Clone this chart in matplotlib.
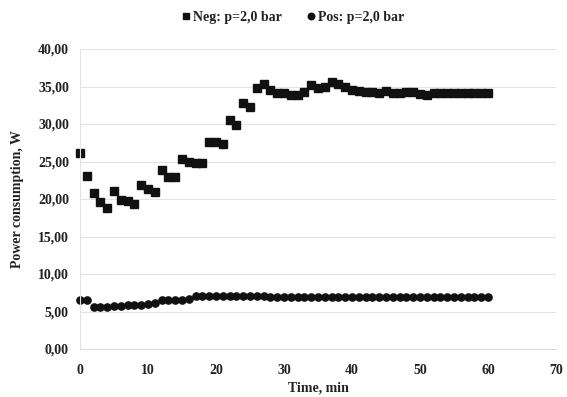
import matplotlib
matplotlib.use("Agg")
import matplotlib.pyplot as plt
from matplotlib.ticker import FuncFormatter

time_min = list(range(0, 61))
neg_power = [26.1, 23.1, 20.8, 19.6, 18.8, 21.1, 19.9, 19.7, 19.4, 21.9,
             21.4, 21.0, 23.9, 23.0, 23.0, 25.4, 25.0, 24.8, 24.8, 27.6,
             27.6, 27.4, 30.5, 29.9, 32.8, 32.2, 34.8, 35.4, 34.5, 34.2,
             34.2, 33.9, 33.9, 34.3, 35.2, 34.8, 35.0, 35.6, 35.3, 35.0,
             34.6, 34.4, 34.3, 34.3, 34.1, 34.4, 34.1, 34.1, 34.3, 34.3,
             34.0, 33.9, 34.1, 34.1, 34.1, 34.1, 34.1, 34.1, 34.1, 34.1, 34.1]
pos_power = [6.5, 6.5, 5.6, 5.6, 5.6, 5.7, 5.8, 5.9, 5.9, 5.9,
             6.0, 6.2, 6.6, 6.6, 6.6, 6.6, 6.7, 7.1, 7.1, 7.1,
             7.1, 7.1, 7.1, 7.1, 7.1, 7.1, 7.1, 7.1, 6.9, 6.9,
             6.9, 6.9, 6.9, 6.9, 6.9, 6.9, 6.9, 6.9, 6.9, 6.9,
             6.9, 6.9, 6.9, 6.9, 6.9, 6.9, 6.9, 6.9, 6.9, 6.9,
             6.9, 6.9, 6.9, 6.9, 6.9, 6.9, 6.9, 6.9, 6.9, 6.9, 6.9]
series_labels = ["Neg: p=2,0 bar", "Pos: p=2,0 bar"]
x_label = "Time, min"
y_label = "Power consumption, W"

FAM = ['Liberation Serif', 'DejaVu Serif']
plt.rcParams['font.family'] = FAM
plt.rcParams['font.weight'] = 'bold'

fig = plt.figure(figsize=(5.67, 3.97), dpi=100)
ax = fig.add_axes([80/567, 1 - 349/397, (556-80)/567, (349-49)/397])

ax.plot(time_min, neg_power, linestyle='none', marker='s', markersize=5.2,
        color='#111111', label=series_labels[0], clip_on=False)
ax.plot(time_min, pos_power, linestyle='none', marker='o', markersize=5.2,
        color='#111111', label=series_labels[1], clip_on=False)

ax.set_xlim(0, 70)
ax.set_ylim(0, 40)
ax.set_xticks(range(0, 71, 10))
ax.set_yticks(range(0, 41, 5))
ax.yaxis.set_major_formatter(FuncFormatter(lambda v, p: f"{v:.2f}".replace('.', ',')))
ax.grid(axis='y', color='#e3e3e3', linewidth=0.8)
ax.set_axisbelow(True)
for s in ['top', 'right']:
    ax.spines[s].set_visible(False)
ax.spines['left'].set_color('#e3e3e3')
ax.spines['bottom'].set_color('#dcdcdc')
ax.tick_params(axis='x', length=0, labelsize=10, colors='#222222', pad=11)
ax.tick_params(axis='y', length=0, labelsize=10, colors='#222222', pad=8)
for lbl in ax.get_xticklabels() + ax.get_yticklabels():
    lbl.set_fontweight('bold')
    lbl.set_family(FAM)

ax.set_xlabel(x_label, fontsize=10, fontweight='bold', color='#222222', labelpad=3)
ax.set_ylabel(y_label, fontsize=10, fontweight='bold', color='#222222', labelpad=10)

leg = fig.legend(loc='center', bbox_to_anchor=(292/567, 1 - 17/397), ncol=2,
                 frameon=False, prop={'family': FAM, 'weight': 'bold', 'size': 10},
                 handletextpad=0.0, columnspacing=1.6,
                 markerscale=0.9, handlelength=1.0)
for t in leg.get_texts():
    t.set_color('#222222')

fig.savefig("out.png", dpi=100)
